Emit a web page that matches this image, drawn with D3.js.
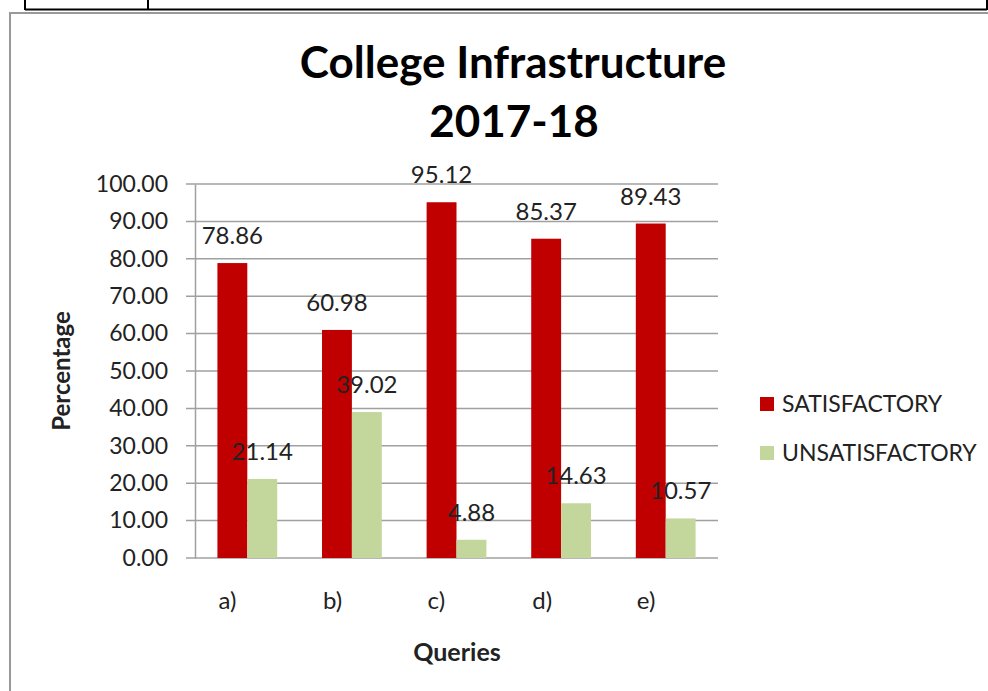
<!DOCTYPE html>
<html>
<head>
<meta charset="utf-8">
<script src="https://cdn.jsdelivr.net/npm/d3@7"></script>
<style>
  body { margin: 0; background: #fff; }
  text { font-family: Lato, "Open Sans", sans-serif; fill: #222; }
</style>
</head>
<body>
<svg id="chart" width="988" height="691"></svg>
<script>
// data
const categories = ["a)", "b)", "c)", "d)", "e)"];
const series = ["SATISFACTORY", "UNSATISFACTORY"];
const satisfactory = [78.86, 60.98, 95.12, 85.37, 89.43];
const unsatisfactory = [21.14, 39.02, 4.88, 14.63, 10.57];
const yTicks = [0, 10, 20, 30, 40, 50, 60, 70, 80, 90, 100];

const colors = { SATISFACTORY: "#c00000", UNSATISFACTORY: "#c3d69b" };

const svg = d3.select("#chart");

// table row border from the document above the chart
svg.append("line").attr("x1", 25).attr("x2", 987).attr("y1", 9.5).attr("y2", 9.5)
  .attr("stroke", "#000").attr("stroke-width", 2);
[25, 148, 987].forEach((x) => {
  svg.append("line").attr("x1", x).attr("x2", x).attr("y1", 0).attr("y2", 10)
    .attr("stroke", "#000").attr("stroke-width", 2);
});

// chart frame
svg.append("rect")
  .attr("x", 10).attr("y", 13).attr("width", 1000).attr("height", 700)
  .attr("fill", "none").attr("stroke", "#999").attr("stroke-width", 2);

// scales
const x0 = d3.scaleBand().domain(categories).range([195, 718]);
const x1 = d3.scaleBand().domain(series).range([0, x0.bandwidth()]).paddingOuter(0.75);
const y = d3.scaleLinear().domain([0, 100]).range([558, 184]);

// gridlines
svg.append("g")
  .selectAll("line")
  .data(yTicks)
  .join("line")
  .attr("x1", 186)
  .attr("x2", 718)
  .attr("y1", (d) => y(d))
  .attr("y2", (d) => y(d))
  .attr("stroke", "#a0a0a0")
  .attr("stroke-width", 1.5);

// y axis
const yAxis = svg.append("g")
  .attr("transform", "translate(195,0)")
  .call(d3.axisLeft(y).tickValues(yTicks).tickFormat(d3.format(".2f")).tickSize(0).tickPadding(27));
yAxis.select(".domain").attr("stroke", "#a0a0a0").attr("stroke-width", 1.5);
yAxis.selectAll("text").style("font-size", "23px").attr("fill", "#222")
  .style("font-family", "Lato, sans-serif");

// bars
const rows = categories.map((c, i) => ({
  cat: c,
  vals: [
    { key: "SATISFACTORY", value: satisfactory[i] },
    { key: "UNSATISFACTORY", value: unsatisfactory[i] },
  ],
}));

const groups = svg.append("g")
  .selectAll("g")
  .data(rows)
  .join("g")
  .attr("transform", (d) => `translate(${x0(d.cat)},0)`);

groups.selectAll("rect")
  .data((d) => d.vals)
  .join("rect")
  .attr("x", (d) => x1(d.key))
  .attr("y", (d) => y(d.value))
  .attr("width", x1.bandwidth())
  .attr("height", (d) => y(0) - y(d.value))
  .attr("fill", (d) => colors[d.key]);

// value labels
groups.selectAll("text.val")
  .data((d) => d.vals)
  .join("text")
  .attr("class", "val")
  .attr("x", (d) => x1(d.key) + x1.bandwidth() / 2)
  .attr("y", (d) => y(d.value) - 19)
  .attr("text-anchor", "middle")
  .style("font-size", "24px")
  .text((d) => d.value.toFixed(2));

// category labels
groups.append("text")
  .attr("x", x1("SATISFACTORY") + 1)
  .attr("y", 609)
  .style("font-size", "24px")
  .text((d) => d.cat);

// axis titles
svg.append("text")
  .attr("x", 457).attr("y", 661)
  .attr("text-anchor", "middle")
  .style("font-size", "25px").style("font-weight", "bold")
  .text("Queries");

svg.append("text")
  .attr("transform", "translate(70,371) rotate(-90)")
  .attr("text-anchor", "middle")
  .style("font-size", "24px").style("font-weight", "bold")
  .text("Percentage");

// title
svg.append("text")
  .attr("x", 513).attr("y", 78)
  .attr("text-anchor", "middle")
  .style("font-size", "44px").style("font-weight", "bold").style("fill", "#000")
  .text("College Infrastructure");
svg.append("text")
  .attr("x", 514).attr("y", 137)
  .attr("text-anchor", "middle")
  .style("font-size", "44px").style("font-weight", "bold").style("fill", "#000")
  .text("2017-18");

// legend
const legend = svg.append("g")
  .selectAll("g")
  .data(series)
  .join("g")
  .attr("transform", (d, i) => `translate(760,${397 + i * 49})`);
legend.append("rect")
  .attr("width", 14).attr("height", 14)
  .attr("fill", (d) => colors[d]);
legend.append("text")
  .attr("x", 22).attr("y", 15)
  .style("font-size", "23px")
  .text((d) => d);
</script>
</body>
</html>
